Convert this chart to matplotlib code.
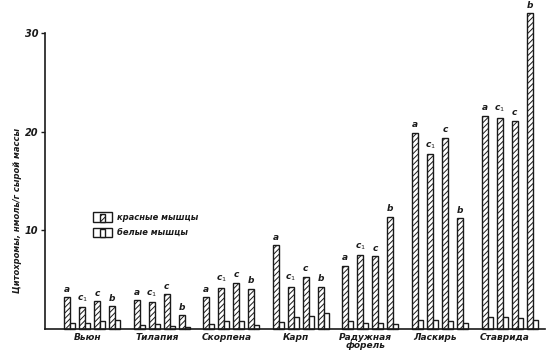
import numpy as np
import matplotlib
matplotlib.use("Agg")
import matplotlib.pyplot as plt
from matplotlib.patches import Rectangle
from matplotlib.legend_handler import HandlerBase

# цитохромы, нмоль/г сырой массы
fishes = ["Вьюн", "Тилапия", "Скорпена", "Карп", "Радужная\nфорель", "Ласкирь", "Ставрида"]
letters = ["a", "c$_1$", "c", "b"]
red_a = [3.2, 2.9, 3.2, 8.5, 6.4, 19.9, 21.6]
red_c1 = [2.2, 2.7, 4.2, 4.3, 7.5, 17.7, 21.4]
red_c = [2.8, 3.5, 4.7, 5.3, 7.4, 19.4, 21.1]
red_b = [2.3, 1.4, 4.1, 4.3, 11.4, 11.2, 32.0]
white_a = [0.6, 0.4, 0.55, 0.7, 0.85, 0.9, 1.2]
white_c1 = [0.65, 0.55, 0.85, 1.2, 0.6, 0.9, 1.2]
white_c = [0.85, 0.35, 0.85, 1.3, 0.6, 0.85, 1.15]
white_b = [0.9, 0.2, 0.45, 1.6, 0.5, 0.65, 0.95]
yticks = [10, 20, 30]

ink = "#1a1a1a"
plt.rcParams["hatch.linewidth"] = 0.7
plt.rcParams["hatch.color"] = ink

red = np.array([red_a, red_c1, red_c, red_b]).T
white = np.array([white_a, white_c1, white_c, white_b]).T

fig = plt.figure(figsize=(5.59, 3.55), dpi=100)
ax = fig.add_axes([45 / 559, 26 / 355, 500 / 559, 296 / 355])

group_step = 4.64
rw, ww = 0.4, 0.33
for i, name in enumerate(fishes):
    xs = i * group_step + np.arange(4)
    ax.bar(xs, red[i], width=rw, align="edge", facecolor="white",
           edgecolor=ink, linewidth=1.0, hatch="//////", clip_on=False)
    ax.bar(xs + rw, white[i], width=ww, align="edge", facecolor="white",
           edgecolor=ink, linewidth=1.0, clip_on=False)
    for j, x in enumerate(xs):
        ax.text(x + rw / 2, red[i][j] + 0.35, letters[j], ha="center", va="bottom",
                fontsize=6.5, style="italic", fontweight="bold", color=ink)
    ax.text(xs.mean() + 0.05, -0.45, name, ha="center", va="top", fontsize=6.5,
            style="italic", fontweight="bold", color=ink, linespacing=0.85)

ax.set_xlim(-1.27, 32.07)
ax.set_ylim(0, 30)
ax.set_yticks(yticks)
ax.set_yticklabels([str(t) for t in yticks], fontsize=7, style="italic",
                   fontweight="bold", color=ink)
ax.set_xticks([])
ax.tick_params(axis="y", length=3, width=1, color=ink, pad=2)
for s in ["top", "right"]:
    ax.spines[s].set_visible(False)
ax.spines["left"].set_color(ink)
ax.spines["bottom"].set_color(ink)
ax.spines["left"].set_linewidth(1.2)
ax.spines["bottom"].set_linewidth(1.2)

fig.text(18 / 559, 1 - 210 / 355, "Цитохромы, нмоль/г сырой массы", rotation=90,
         ha="center", va="center", fontsize=6, style="italic", fontweight="bold",
         color=ink)


class BoxedBar(HandlerBase):
    def __init__(self, hatch):
        super().__init__()
        self.hatch = hatch

    def create_artists(self, legend, orig_handle, xdescent, ydescent, width, height,
                       fontsize, trans):
        outer = Rectangle((-xdescent, -ydescent), width, height, facecolor="white",
                          edgecolor=ink, linewidth=1.0, transform=trans)
        inner = Rectangle((-xdescent + width * 0.38, -ydescent), width * 0.24,
                          height * 0.85, facecolor="white", edgecolor=ink,
                          linewidth=1.0, hatch=self.hatch, transform=trans)
        return [outer, inner]


h_red = Rectangle((0, 0), 1, 1)
h_white = Rectangle((0, 0), 1, 1)
leg = ax.legend([h_red, h_white], ["красные мышцы", "белые мышцы"],
                handler_map={h_red: BoxedBar("//////"), h_white: BoxedBar(None)},
                loc="upper left", bbox_to_anchor=(89 / 559, 1 - 208 / 355),
                bbox_transform=fig.transFigure, frameon=False, fontsize=6,
                handlelength=2.2, handleheight=1.4, handletextpad=0.7,
                labelspacing=0.7, borderpad=0)
for t in leg.get_texts():
    t.set_style("italic")
    t.set_fontweight("bold")
    t.set_color(ink)

fig.savefig("out.png", dpi=100)
